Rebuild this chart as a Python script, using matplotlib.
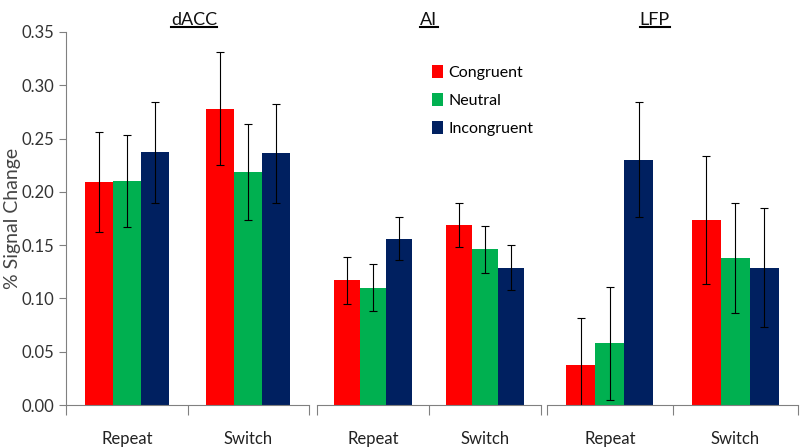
import numpy as np
import matplotlib.pyplot as plt
from matplotlib.lines import Line2D

plt.rcParams['font.family'] = ['Lato', 'DejaVu Sans']

regions = ["dACC", "AI", "LFP"]
conditions = ["Repeat", "Switch"]
series = ["Congruent", "Neutral", "Incongruent"]
colors = ["#ff0000", "#00b050", "#002060"]

# values[region][condition] -> [congruent, neutral, incongruent]
dacc_vals = [[0.209, 0.210, 0.237], [0.278, 0.219, 0.236]]
dacc_err = [[0.047, 0.043, 0.047], [0.053, 0.045, 0.046]]
ai_vals = [[0.117, 0.110, 0.156], [0.169, 0.146, 0.129]]
ai_err = [[0.022, 0.022, 0.020], [0.021, 0.022, 0.021]]
lfp_vals = [[0.038, 0.058, 0.230], [0.174, 0.138, 0.129]]
lfp_err = [[0.044, 0.053, 0.054], [0.060, 0.052, 0.056]]

all_vals = [dacc_vals, ai_vals, lfp_vals]
all_err = [dacc_err, ai_err, lfp_err]

W, H = 800, 448
fig = plt.figure(figsize=(W / 100, H / 100), dpi=100)

panels_px = [(66, 309), (317, 541), (547, 798)]
title_x = [0.527, 0.5, 0.43]
y0_px, y1_px = 405, 32
grey = "#808080"
width = 0.23

axes = []
for i, (x0, x1) in enumerate(panels_px):
    ax = fig.add_axes([x0 / W, (H - y0_px) / H, (x1 - x0) / W, (y0_px - y1_px) / H])
    axes.append(ax)
    vals = np.array(all_vals[i])
    errs = np.array(all_err[i])
    centers = np.arange(len(conditions)) + 0.5
    for s in range(len(series)):
        ax.bar(centers + (s - 1) * width, vals[:, s], width, color=colors[s],
               yerr=errs[:, s], error_kw=dict(ecolor="black", elinewidth=0.8,
                                              capsize=3, capthick=0.8),
               label=series[s])
    ax.set_xlim(0, 2)
    ax.set_ylim(0, 0.35)
    for side in ["top", "right"]:
        ax.spines[side].set_visible(False)
    ax.spines["bottom"].set_color(grey)
    ax.spines["left"].set_color(grey)
    ax.set_xticks([0, 1, 2])
    ax.set_xticklabels([])
    ax.set_xticks(centers, minor=True)
    ax.set_xticklabels(conditions, minor=True, fontsize=12, color="#222222")
    ax.tick_params(axis="x", which="major", length=7, color=grey, direction="out")
    ax.tick_params(axis="x", which="minor", length=0, pad=19)
    if i == 0:
        ax.set_yticks(np.arange(0, 0.351, 0.05))
        ax.set_yticklabels([f"{v:.2f}" for v in np.arange(0, 0.351, 0.05)],
                           fontsize=12, color="#333333")
        ax.tick_params(axis="y", length=5, color=grey)
        ax.set_ylabel("% Signal Change", fontsize=14, color="#444444")
        ax.yaxis.set_label_coords(-0.185, 0.5)
    else:
        ax.spines["left"].set_visible(False)
        ax.set_yticks([])
    ax.text(title_x[i], 1.0 + 4 / 373, regions[i], transform=ax.transAxes,
            ha="center", va="bottom", fontsize=13, color="#111111")

leg = axes[1].legend(loc="upper left", bbox_to_anchor=(0.45, 0.95), frameon=False,
                     fontsize=11.5, handlelength=0.7, handleheight=0.9,
                     handletextpad=0.3, labelspacing=0.8)

# underline the region titles
fig.canvas.draw()
renderer = fig.canvas.get_renderer()
for ax in axes:
    for t in ax.texts:
        bb = t.get_window_extent(renderer)
        y = bb.y0 + 1
        fig.add_artist(Line2D([bb.x0 / W, bb.x1 / W], [y / H, y / H],
                              transform=fig.transFigure, color="black", lw=1.5))

fig.savefig("out.png", dpi=100)
